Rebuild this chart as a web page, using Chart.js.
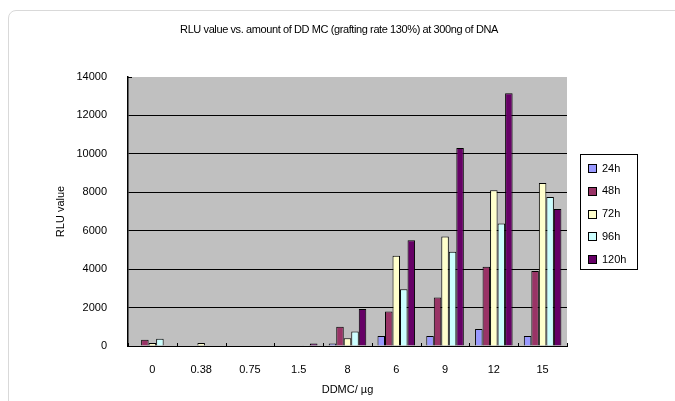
<!DOCTYPE html>
<html lang="en">
<head>
<meta charset="UTF-8">
<title>RLU value vs. amount of DD MC</title>
<script src="https://cdn.jsdelivr.net/npm/chart.js"></script>
<style>
  html, body { margin: 0; padding: 0; background: #fff; overflow: hidden; }
  #wrap { position: relative; width: 675px; height: 401px; }
  #frame {
    position: absolute; left: 8px; top: 10px; width: 700px; height: 420px;
    border: 1px solid #d9d9d9; border-radius: 8px; box-sizing: border-box;
  }
  #chart { position: absolute; left: 0; top: 0; }
</style>
</head>
<body>
<div id="wrap">
  <div id="frame"></div>
  <canvas id="chart" width="675" height="401"></canvas>
</div>
<script>
// doses (x axis)
var doses = ['0', '0.38', '0.75', '1.5', '8', '6', '9', '12', '15'];

// RLU values per time point
var h24  = [30, 30, 0, 30, 130, 520, 520, 880, 520];
var h48  = [330, 20, 0, 30, 1000, 1800, 2520, 4120, 3900];
var h72  = [160, 160, 0, 30, 400, 4700, 5700, 8100, 8480];
var h96  = [380, 30, 0, 40, 760, 2950, 4900, 6380, 7750];
var h120 = [30, 0, 0, 130, 1930, 5500, 10300, 13150, 7130];

var yTicks = [0, 2000, 4000, 6000, 8000, 10000, 12000, 14000];

var seriesNames = ['24h', '48h', '72h', '96h', '120h'];
var seriesColors = ['#9999FF', '#993366', '#FFFFCC', '#CCFFFF', '#660066'];

Chart.defaults.font.family = '"Liberation Sans", Arial, sans-serif';
Chart.defaults.font.size = 11;
Chart.defaults.color = '#000';

var allSeries = [h24, h48, h72, h96, h120];
var datasets = allSeries.map(function (vals, i) {
  return {
    label: seriesNames[i],
    data: vals,
    backgroundColor: seriesColors[i],
    borderColor: '#000',
    borderWidth: 1,
    borderSkipped: 'bottom',
    categoryPercentage: 0.77,
    barPercentage: 1.0
  };
});

// gray plot area, title, inner tick marks and the boxed legend
var excelLook = {
  id: 'excelLook',
  beforeDraw: function (chart) {
    var a = chart.chartArea, c = chart.ctx;
    c.save();
    c.fillStyle = '#C0C0C0';
    c.fillRect(a.left, a.top, a.right - a.left, a.bottom - a.top);
    c.restore();
  },
  afterDraw: function (chart) {
    var a = chart.chartArea, c = chart.ctx;
    var xs = chart.scales.x;
    c.save();
    // title
    c.fillStyle = '#000';
    c.font = '11px "Liberation Sans", Arial, sans-serif';
    c.letterSpacing = '-0.4px';
    c.textAlign = 'center';
    c.textBaseline = 'middle';
    c.fillText('RLU value vs. amount of DD MC (grafting rate 130%) at 300ng of DNA', 339, 30);
    c.letterSpacing = '0px';

    // little ticks pointing into the plot at category edges
    c.strokeStyle = '#000';
    c.lineWidth = 1;
    var step = xs.getPixelForValue(1) - xs.getPixelForValue(0);
    for (var i = 0; i <= doses.length; i++) {
      var x = Math.round(xs.getPixelForValue(0) - step / 2 + i * step) + 0.5;
      c.beginPath();
      c.moveTo(x, a.bottom);
      c.lineTo(x, a.bottom - 3);
      c.stroke();
    }
    c.beginPath();
    c.moveTo(a.left, a.top + 0.5);
    c.lineTo(a.left + 4, a.top + 0.5);
    c.stroke();

    // legend
    var lx = 580, ly = 154, lw = 57, lh = 115;
    c.strokeRect(lx + 0.5, ly + 0.5, lw, lh);
    c.textAlign = 'left';
    chart.data.datasets.forEach(function (ds, k) {
      var cy = 168 + k * 22.8;
      c.fillStyle = ds.backgroundColor;
      c.fillRect(588, Math.round(cy - 4), 8, 8);
      c.strokeRect(588.5, Math.round(cy - 4) + 0.5, 8, 8);
      c.fillStyle = '#000';
      c.fillText(ds.label, 602, cy + 0.5);
    });
    c.restore();
  }
};

new Chart(document.getElementById('chart'), {
  type: 'bar',
  data: { labels: doses, datasets: datasets },
  options: {
    responsive: false,
    animation: false,
    layout: { padding: { left: 48, right: 108, top: 77, bottom: 0 } },
    plugins: {
      legend: { display: false },
      title: { display: false },
      tooltip: { enabled: false }
    },
    scales: {
      x: {
        grid: { display: false },
        border: { display: true, color: '#000', width: 1 },
        ticks: { padding: 9, maxRotation: 0, autoSkip: false },
        title: { display: true, text: 'DDMC/ µg', padding: { top: 0, bottom: 4 } },
        afterFit: function (s) { s.height = 55; }
      },
      y: {
        min: 0,
        max: 14000,
        afterBuildTicks: function (s) {
          s.ticks = yTicks.map(function (v) { return { value: v }; });
        },
        ticks: { padding: 21, callback: function (v) { return String(v); } },
        grid: {
          drawTicks: false,
          color: function (ctx) {
            return ctx.tick && ctx.tick.value === 14000 ? 'rgba(0,0,0,0)' : '#000';
          }
        },
        border: { display: true, color: '#000', width: 1.5 },
        title: { display: true, text: 'RLU value', padding: { top: 6, bottom: 0 } },
        afterFit: function (s) { s.width = 80; }
      }
    }
  },
  plugins: [excelLook]
});
</script>
</body>
</html>
